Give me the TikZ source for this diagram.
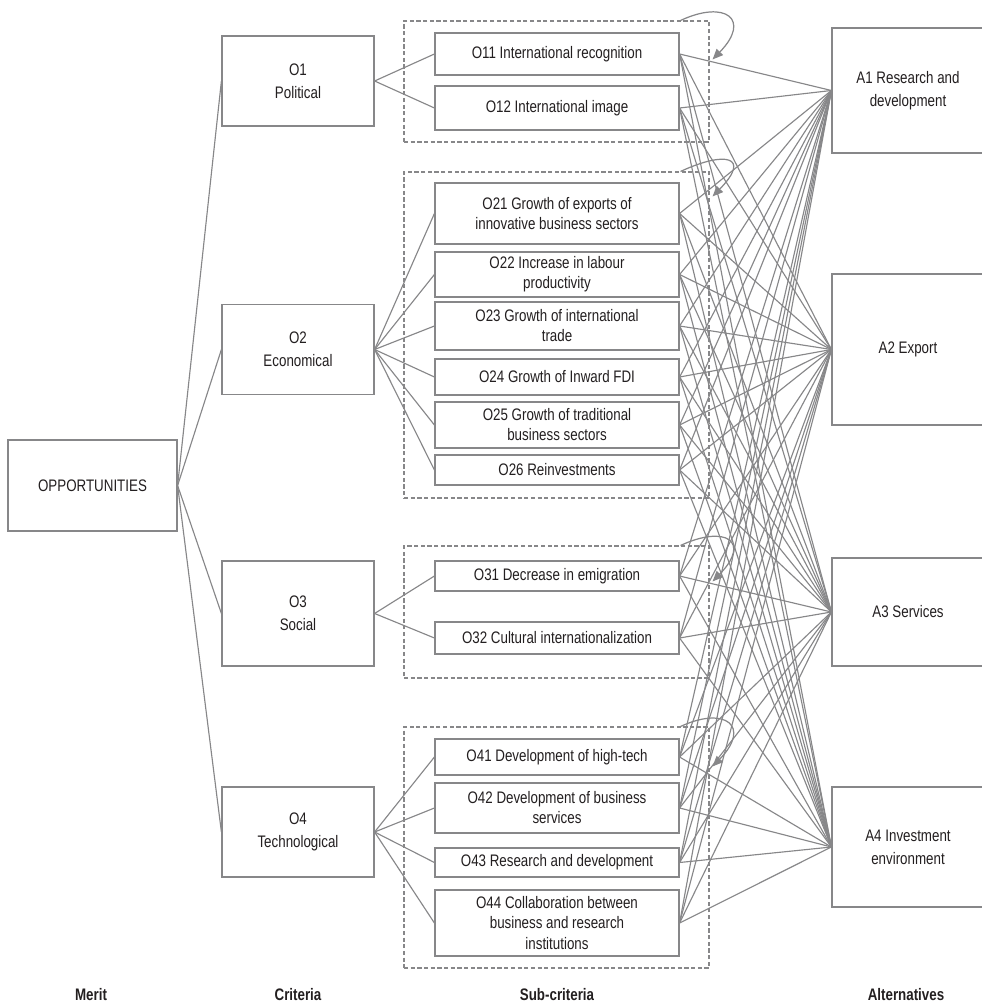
\documentclass[tikz,border=0pt]{standalone}
\usepackage{fontspec}
\setmainfont{Liberation Sans}[FakeStretch=0.8]
\usetikzlibrary{positioning,fit,calc,arrows.meta}
\definecolor{linegray}{RGB}{135,135,137}
\definecolor{textdark}{RGB}{35,31,32}
\tikzset{hbox/.style={draw=linegray, line width=0.7pt, fill=white, align=center, inner sep=2pt, text=textdark, font=\fontsize{9.5}{11.4}\selectfont}}
\tikzset{critbox/.style={hbox, minimum width=3.04cm, minimum height=1.8cm, font=\fontsize{9.5}{13}\selectfont}}
\tikzset{subbox/.style={hbox, minimum width=4.88cm}}
\tikzset{altbox/.style={hbox, minimum width=3.04cm, font=\fontsize{9.5}{13}\selectfont}}
\tikzset{grp/.style={draw=linegray, dash pattern=on 2.4pt off 1.4pt, line width=0.6pt, inner sep=0pt}}
\tikzset{link/.style={draw=linegray, line width=0.65pt}}
\tikzset{selfloop/.style={draw=linegray, line width=0.7pt, -{Triangle[length=6pt,width=5pt]}}}
\tikzset{levelname/.style={text=textdark, font=\bfseries\fontsize{9.5}{11}\selectfont}}

\begin{document}
\begin{tikzpicture}[x=0.02cm, y=-0.02cm]
    \useasboundingbox (0,0) rectangle (981,1006);

    % dashed groups of sub-criteria
    \node[grp, fit={(404,21) (709,142)}] (G1) {};
    \node[grp, fit={(404,172) (709,498)}] (G2) {};
    \node[grp, fit={(404,546) (709,678)}] (G3) {};
    \node[grp, fit={(404,727) (709,968)}] (G4) {};

    % merit and criteria
    \node[hbox, minimum width=3.38cm, minimum height=1.82cm] (OPP) at (92.5,485.5) {OPPORTUNITIES};
    \node[critbox] (O1) at (298,81) {O1\\Political};
    \node[critbox] (O2) at (298,349.5) {O2\\Economical};
    \node[critbox, minimum height=2.1cm] (O3) at (298,613.5) {O3\\Social};
    \node[critbox] (O4) at (298,832) {O4\\Technological};

    % sub-criteria
    \node[subbox, minimum height=0.84cm] (O11) at (557,54) {O11 International recognition};
    \node[subbox, minimum height=0.88cm] (O12) at (557,108) {O12 International image};
    \node[subbox, minimum height=1.22cm] (O21) at (557,213.5) {O21 Growth of exports of\\innovative business sectors};
    \node[subbox, minimum height=0.9cm] (O22) at (557,274.5) {O22 Increase in labour\\productivity};
    \node[subbox, minimum height=0.96cm] (O23) at (557,326) {O23 Growth of international\\trade};
    \node[subbox, minimum height=0.72cm] (O24) at (557,377) {O24 Growth of Inward FDI};
    \node[subbox, minimum height=0.92cm] (O25) at (557,425) {O25 Growth of traditional\\business sectors};
    \node[subbox, minimum height=0.6cm] (O26) at (557,470) {O26 Reinvestments};
    \node[subbox, minimum height=0.6cm] (O31) at (557,576) {O31 Decrease in emigration};
    \node[subbox, minimum height=0.64cm] (O32) at (557,638) {O32 Cultural internationalization};
    \node[subbox, minimum height=0.72cm] (O41) at (557,757) {O41 Development of high-tech};
    \node[subbox, minimum height=1.0cm] (O42) at (557,808) {O42 Development of business\\services};
    \node[subbox, minimum height=0.58cm] (O43) at (557,862.5) {O43 Research and development};
    \node[subbox, minimum height=1.32cm] (O44) at (557,923) {O44 Collaboration between\\business and research\\institutions};

    % alternatives (cut by the right edge)
    \node[altbox, minimum height=2.5cm] (A1) at (908,90.5) {A1 Research and\\development};
    \node[altbox, minimum height=3.02cm] (A2) at (908,349.5) {A2 Export};
    \node[altbox, minimum height=2.16cm] (A3) at (908,612) {A3 Services};
    \node[altbox, minimum height=2.4cm] (A4) at (908,847) {A4 Investment\\environment};

    % level names
    \node[levelname] (merit) at (91,995) {Merit};
    \node[levelname] (criteria) at (298,995) {Criteria};
    \node[levelname] (subcrit) at (557,995) {Sub-criteria};
    \node[levelname] (alts) at (906,995) {Alternatives};

    % tree
    \foreach \c in {O1,O2,O3,O4}
        \draw[link] (OPP.east) -- (\c.west);
    \foreach \s in {O11,O12}
        \draw[link] (O1.east) -- (\s.west);
    \foreach \s in {O21,O22,O23,O24,O25,O26}
        \draw[link] (O2.east) -- (\s.west);
    \foreach \s in {O31,O32}
        \draw[link] (O3.east) -- (\s.west);
    \foreach \s in {O41,O42,O43,O44}
        \draw[link] (O4.east) -- (\s.west);

    % every sub-criterion to every alternative
    \foreach \s in {O11,O12,O21,O22,O23,O24,O25,O26,O31,O32,O41,O42,O43,O44}
        \foreach \a in {A1,A2,A3,A4}
            \draw[link] (\s.east) -- (\a.west);

    % inner dependence loops
    \foreach \g/\d in {G1/39,G2/25,G3/36,G4/40}
        \draw[selfloop] ($(\g.north east)+(-29,0)$)
            .. controls +(45,-21) and +(39,-40) .. ($(\g.north east)+(3,\d)$);
\end{tikzpicture}
\end{document}
